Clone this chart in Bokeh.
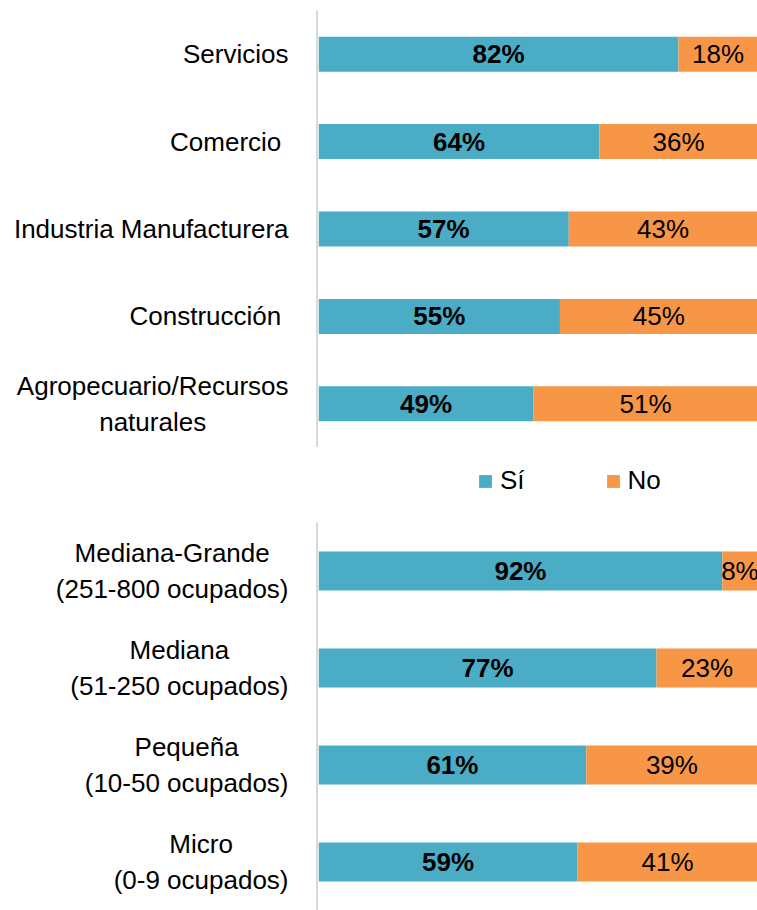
from bokeh.plotting import figure
from bokeh.models import (ColumnDataSource, FactorRange, Range1d, Legend, LegendItem, Span)
from bokeh.layouts import column, row
from bokeh.embed import file_html
from bokeh.resources import INLINE
from bokeh.core.properties import value

# ---- data ----
sector_labels = ["Servicios", "Comercio ", "Industria Manufacturera", "Construcción ",
                 "Agropecuario/Recursos\nnaturales"]
sector_si = [82, 64, 57, 55, 49]
sector_no = [18, 36, 43, 45, 51]

size_labels = ["Mediana-Grande\n(251-800 ocupados)", "Mediana\n(51-250 ocupados)",
               "Pequeña\n(10-50 ocupados)", "Micro\n(0-9 ocupados)"]
size_si = [92, 77, 61, 59]
size_no = [8, 23, 39, 41]

series_names = ["Sí", "No"]
colors = ["#4BACC6", "#F79646"]

# ---- styling ----
FONT = "Liberation Sans"
FS = 26
AXIS_GRAY = "#D9D9D9"
LEFT = 318
FRAME_W = 439
LABEL_RIGHT = 288
# approximate Arial advance widths (per 1000 em) used to centre wrapped labels
_W = {'(': 333, ')': 333, '-': 333, ' ': 278, 'o': 556, 'c': 500, 'u': 556, 'p': 556,
      'a': 556, 'd': 556, 's': 500, 'A': 667, 'g': 556, 'r': 333, 'e': 556, 'i': 222,
      '/': 278, 'R': 722, 'n': 556, 't': 278, 'l': 222}


def text_width(s):
    return sum(_W.get(ch, 556) for ch in s) * FS / 1000.0


def bare(p):
    p.axis.visible = False
    p.grid.visible = False
    p.outline_line_color = None


def make_pair(cats, si, no, frame_h, border_top):
    keys = [c.strip() for c in cats]
    yr = FactorRange(*list(reversed(keys)), range_padding=0)

    # ---- label column (pixel-unit x range) ----
    pl = figure(y_range=yr, x_range=Range1d(0, LEFT), frame_width=LEFT, frame_height=frame_h,
                output_backend="svg", toolbar_location=None, min_border_left=0,
                min_border_right=0, min_border_top=border_top, min_border_bottom=0)
    bare(pl)
    single = dict(cat=[], text=[], x=[])
    multi = dict(cat=[], text=[], x=[])
    for raw, key in zip(cats, keys):
        lines = raw.rstrip(" ").split("\n")
        extra = text_width(" ") if raw.endswith(" ") else 0
        right = LABEL_RIGHT - extra
        if len(lines) == 1:
            single["cat"].append(key); single["text"].append(lines[0]); single["x"].append(right)
        else:
            wmax = max(text_width(l) for l in lines)
            multi["cat"].append(key); multi["text"].append("\n".join(lines))
            multi["x"].append(right - wmax / 2)
    for d, align in ((single, "right"), (multi, "center")):
        if d["cat"]:
            pl.text(x="x", y="cat", text="text", source=ColumnDataSource(d), text_align=align,
                    text_baseline="middle", text_font=value(FONT), text_font_size=f"{FS}px",
                    text_color="black", text_line_height=1.2)
    pl.add_layout(Span(location=LEFT - 1.5, dimension="height", line_color=AXIS_GRAY,
                       line_width=2))

    # ---- bars ----
    p = figure(y_range=yr, x_range=Range1d(0, 100), frame_width=FRAME_W, frame_height=frame_h,
               output_backend="svg", toolbar_location=None, min_border_left=0,
               min_border_right=0, min_border_top=border_top, min_border_bottom=0)
    bare(p)
    src = ColumnDataSource(dict(cat=keys, si=si, no=no,
                                no_end=[a + b for a, b in zip(si, no)],
                                si_mid=[s / 2 for s in si],
                                no_mid=[s + v / 2 for s, v in zip(si, no)],
                                si_lbl=[f"{v}%" for v in si], no_lbl=[f"{v}%" for v in no]))
    p.hbar(y="cat", left=0, right="si", height=0.4, fill_color=colors[0],
           line_color=None, source=src)
    p.hbar(y="cat", left="si", right="no_end", height=0.4, fill_color=colors[1],
           line_color=None, source=src)
    p.text(x="si_mid", y="cat", text="si_lbl", source=src, text_align="center",
           text_baseline="middle", text_font=value(FONT), text_font_size=f"{FS}px",
           text_font_style="bold", text_color="black")
    p.text(x="no_mid", y="cat", text="no_lbl", source=src, text_align="center",
           text_baseline="middle", text_font=value(FONT), text_font_size=f"{FS}px",
           text_color="black")
    return row(pl, p, spacing=0)


top = make_pair(sector_labels, sector_si, sector_no, 437, 10)

# legend strip
lg = figure(width=757, height=75, x_range=Range1d(0, 1), y_range=Range1d(0, 1),
            output_backend="svg", toolbar_location=None, min_border=0)
bare(lg)
offscreen = ColumnDataSource(dict(x=[-5], y=[-5]))
r_si = lg.rect(x="x", y="y", width=0.1, height=0.1, fill_color=colors[0], line_color=None,
               source=offscreen)
r_no = lg.rect(x="x", y="y", width=0.1, height=0.1, fill_color=colors[1], line_color=None,
               source=offscreen)
legend = Legend(items=[LegendItem(label=series_names[0], renderers=[r_si]),
                       LegendItem(label=series_names[1], renderers=[r_no])],
                orientation="horizontal", location=(477, 26), border_line_color=None,
                label_text_font=FONT, label_text_font_size=f"{FS}px", label_text_color="black",
                glyph_width=16, glyph_height=16, spacing=80, label_standoff=7, padding=0,
                margin=0, background_fill_alpha=0, label_height=30)
lg.add_layout(legend)

bottom = make_pair(size_labels, size_si, size_no, 388, 0)

layout = column(top, lg, bottom, spacing=0)
open("out.html", "w").write(file_html(layout, INLINE))
